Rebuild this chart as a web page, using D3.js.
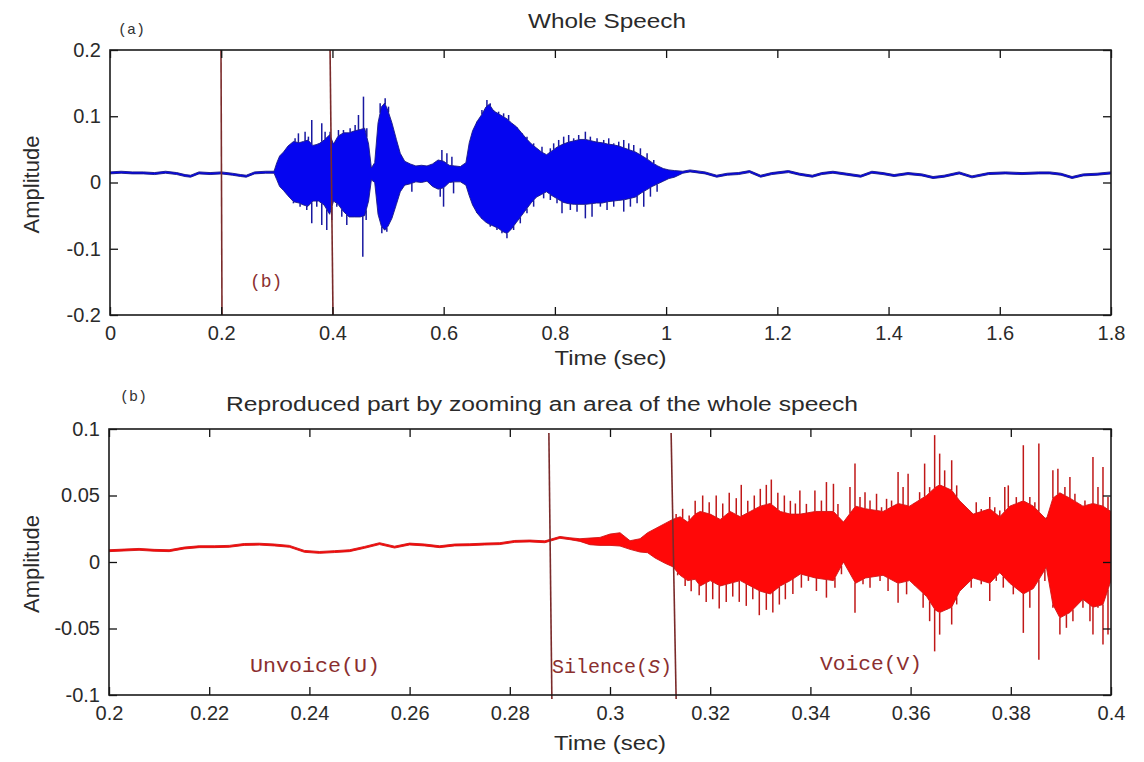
<!DOCTYPE html>
<html>
<head>
<meta charset="utf-8">
<script src="https://cdn.jsdelivr.net/npm/d3@7"></script>
<style>
  body { margin: 0; background: #fff; }
  svg text { font-family: "Liberation Sans", Arial, sans-serif; fill: #2a2a2a; }
  svg text.mono { font-family: "Liberation Mono", "Courier New", monospace; fill: #8b2f2f; }
  svg text.panelTag { font-family: "Liberation Mono", "Courier New", monospace; fill: #333; }
  .axis path { display: none; }
  .axis line { stroke: #111; stroke-width: 1.3; }
  .axis text { font-size: 20px; }
</style>
</head>
<body>
<div id="chart"></div>
<script>
// ---------- data ----------
// (a) whole speech: envelope upper / lower per time (sec)
var topT = [
  0, 0.02, 0.04, 0.06, 0.08, 0.10, 0.12, 0.135, 0.145, 0.16,
  0.18, 0.20, 0.22, 0.235, 0.245, 0.26, 0.28, 0.295, 0.300, 0.305,
  0.312, 0.320, 0.330, 0.340, 0.348, 0.356, 0.365, 0.375, 0.385, 0.395,
  0.402, 0.410, 0.420, 0.430, 0.440, 0.450, 0.458, 0.465, 0.470, 0.476,
  0.482, 0.488, 0.494, 0.500, 0.507, 0.515, 0.522, 0.530, 0.540, 0.550,
  0.560, 0.570, 0.580, 0.590, 0.600, 0.610, 0.620, 0.630, 0.640, 0.646,
  0.652, 0.660, 0.668, 0.676, 0.682, 0.690, 0.698, 0.706, 0.714, 0.722,
  0.731, 0.740, 0.749, 0.758, 0.767, 0.776, 0.785, 0.795, 0.805, 0.815,
  0.825, 0.835, 0.845, 0.855, 0.865, 0.875, 0.885, 0.895, 0.905, 0.915,
  0.925, 0.935, 0.945, 0.955, 0.965, 0.975, 0.985, 0.995, 1.005, 1.015,
  1.030, 1.043, 1.070, 1.091, 1.110, 1.130, 1.150, 1.170, 1.190, 1.220,
  1.240, 1.263, 1.280, 1.300, 1.325, 1.350, 1.370, 1.390, 1.410, 1.435,
  1.460, 1.480, 1.500, 1.527, 1.550, 1.580, 1.610, 1.640, 1.670, 1.690,
  1.710, 1.730, 1.750, 1.775, 1.800];
var topHi = [
  .016, .017, .016, .016, .015, .017, .015, .012, .011, .016,
  .015, .016, .014, .012, .011, .016, .017, .017, .030, .040,
  .046, .055, .062, .060, .062, .064, .056, .058, .064, .072,
  .058, .070, .075, .075, .078, .080, .082, .058, .022, .030,
  .090, .114, .120, .108, .090, .065, .044, .032, .028, .025,
  .026, .025, .028, .034, .032, .026, .025, .024, .030, .060,
  .078, .092, .102, .114, .118, .108, .104, .100, .096, .090,
  .084, .075, .066, .058, .052, .046, .042, .048, .054, .058,
  .061, .063, .065, .065, .063, .061, .060, .058, .057, .055,
  .052, .049, .046, .041, .036, .030, .025, .021, .019, .018,
  .017, .019, .016, .011, .014, .015, .018, .011, .015, .018,
  .014, .011, .015, .017, .014, .011, .017, .015, .012, .015,
  .013, .009, .011, .016, .010, .015, .016, .015, .016, .016,
  .014, .009, .013, .014, .016];
var topLo = [
  .013, .014, .013, .013, .012, .014, .012, .009, .008, .013,
  .012, .013, .011, .009, .008, .013, .014, .014, .004, -.006,
  -.012, -.020, -.029, -.031, -.034, -.036, -.028, -.028, -.034, -.048,
  -.028, -.033, -.044, -.052, -.052, -.052, -.050, -.028, .004, .000,
  -.048, -.066, -.072, -.066, -.054, -.033, -.014, -.004, -.002, .001,
  .000, .002, -.006, -.010, -.008, .000, .001, .001, -.004, -.020,
  -.034, -.046, -.054, -.060, -.063, -.066, -.069, -.074, -.077, -.070,
  -.060, -.050, -.040, -.030, -.022, -.018, -.014, -.020, -.025, -.030,
  -.032, -.033, -.033, -.033, -.032, -.031, -.031, -.029, -.028, -.027,
  -.026, -.024, -.022, -.016, -.011, -.006, -.002, .002, .006, .008,
  .014, .016, .013, .008, .011, .012, .015, .008, .012, .015,
  .011, .008, .012, .014, .011, .008, .014, .012, .009, .012,
  .010, .006, .008, .013, .007, .012, .013, .012, .013, .013,
  .011, .006, .010, .011, .013];
// isolated peaks sticking out of the envelope
var topSpikeT = [
  0.3328, 0.3388, 0.3508, 0.3568, 0.3628, 0.3748, 0.3808, 0.3868, 0.3958, 0.4108,
  0.4198, 0.4318, 0.4408, 0.4468, 0.4558, 0.4618, 0.4858, 0.4948, 0.5008, 0.5968,
  0.6058, 0.6148, 0.6598, 0.6688, 0.6778, 0.6838, 0.6898, 0.6988, 0.7078, 0.7168,
  0.7318, 0.7408, 0.7498, 0.7618, 0.7768, 0.7918, 0.7978, 0.8068, 0.8158, 0.8248,
  0.8338, 0.8428, 0.8548, 0.8638, 0.8758, 0.8878, 0.8968, 0.9058, 0.9148, 0.9238,
  0.9328, 0.9418, 0.9538, 0.9658, 0.9778,
  0.3298, 0.3418, 0.3538, 0.3628, 0.3718, 0.3808, 0.3898, 0.3988, 0.4078, 0.4168,
  0.4258, 0.4378, 0.4468, 0.4546, 0.4606, 0.4888, 0.4978, 0.5428, 0.5938, 0.5998,
  0.6178, 0.6598, 0.6688, 0.6838, 0.6958, 0.7048, 0.7138, 0.7258, 0.7378, 0.7498,
  0.7618, 0.7798, 0.7918, 0.8038, 0.8128, 0.8278, 0.8398, 0.8548, 0.8668, 0.8818,
  0.8938, 0.9058, 0.9238, 0.9358, 0.9478, 0.9598, 0.9718, 0.9838];
var topSpikeV = [
  0.0667, 0.0742, 0.0767, 0.0692, 0.0943, 0.0591, 0.0893, 0.0767, 0.0767, 0.0792,
  0.0792, 0.0818, 0.0868, 0.1019, 0.1296, 0.0818, 0.1195, 0.1270, 0.1145, 0.0491,
  0.0440, 0.0390, 0.0843, 0.1094, 0.1245, 0.1195, 0.1094, 0.1069, 0.1044, 0.1019,
  0.0792, 0.0717, 0.0692, 0.0591, 0.0541, 0.0516, 0.0591, 0.0642, 0.0692, 0.0717,
  0.0667, 0.0717, 0.0767, 0.0692, 0.0667, 0.0642, 0.0667, 0.0591, 0.0616, 0.0642,
  0.0591, 0.0566, 0.0516, 0.0440, 0.0340,
  -0.0314, -0.0365, -0.0415, -0.0616, -0.0365, -0.0642, -0.0717, -0.0566, -0.0365, -0.0516,
  -0.0642, -0.0516, -0.0516, -0.1120, -0.0566, -0.0767, -0.0742, -0.0138, -0.0214, -0.0365,
  -0.0164, -0.0365, -0.0516, -0.0667, -0.0717, -0.0767, -0.0843, -0.0717, -0.0616, -0.0465,
  -0.0365, -0.0239, -0.0264, -0.0314, -0.0465, -0.0415, -0.0440, -0.0541, -0.0516, -0.0365,
  -0.0415, -0.0365, -0.0440, -0.0365, -0.0314, -0.0365, -0.0214, -0.0138];
// zoom window markers (top / bottom end of each line)
var topMarkStart = [0.1996, 0.3957];
var topMarkEnd = [0.2014, 0.401];

// (b) zoomed part 0.2 - 0.4 sec
var botT = [
  0.200, 0.203, 0.206, 0.209, 0.212, 0.215, 0.218, 0.221, 0.224, 0.227,
  0.230, 0.233, 0.236, 0.239, 0.242, 0.245, 0.248, 0.251, 0.254, 0.257,
  0.260, 0.263, 0.266, 0.269, 0.272, 0.275, 0.278, 0.281, 0.284, 0.287,
  0.290, 0.292, 0.294, 0.296, 0.298, 0.300, 0.302, 0.304, 0.306, 0.3075,
  0.309, 0.311, 0.3125, 0.314, 0.3155, 0.317, 0.318, 0.320, 0.322, 0.324,
  0.326, 0.328, 0.330, 0.332, 0.334, 0.336, 0.338, 0.341, 0.3446, 0.3466,
  0.349, 0.351, 0.3545, 0.3575, 0.3598, 0.3632, 0.3649, 0.3658, 0.3682, 0.3698,
  0.3725, 0.3758, 0.3778, 0.3798, 0.3825, 0.3845, 0.3871, 0.3884, 0.3898, 0.3918,
  0.3944, 0.3964, 0.3984, 0.400];
var botHi = [
  .0092, .0097, .0102, .0095, .0092, .0112, .0122, .0122, .0125, .0139,
  .0141, .0135, .0125, .0087, .0079, .0085, .0092, .0117, .0145, .0119,
  .0142, .0135, .0122, .0135, .0137, .0142, .0145, .0162, .0165, .0159,
  .0192, .0182, .0175, .018, .0185, .021, .022, .016, .0175, .022,
  .025, .029, .032, .034, .030, .036, .038, .036, .032, .038,
  .034, .038, .042, .044, .038, .036, .036, .038, .038, .030,
  .042, .040, .038, .044, .042, .050, .056, .058, .054, .046,
  .036, .040, .034, .042, .046, .042, .032, .048, .052, .048,
  .042, .044, .042, .038];
var botLo = [
  .0078, .0083, .0088, .0081, .0078, .0098, .0108, .0108, .0111, .0125,
  .0127, .0121, .0111, .0073, .0065, .0071, .0078, .0103, .0131, .0105,
  .0128, .0121, .0108, .0121, .0123, .0128, .0131, .0148, .0151, .0145,
  .0178, .0168, .0155, .013, .0125, .0125, .012, .0095, .0075, .007,
  .003, -.001, -.0035, -.010, -.014, -.013, -.018, -.014, -.018, -.016,
  -.014, -.018, -.022, -.024, -.018, -.014, -.009, -.012, -.014, .000,
  -.016, -.012, -.010, -.016, -.014, -.026, -.036, -.038, -.034, -.022,
  -.012, -.016, -.008, -.016, -.024, -.020, -.004, -.032, -.042, -.038,
  -.028, -.034, -.032, -.014];
var botSpikeT = [
  0.3132, 0.3145, 0.3158, 0.3170, 0.3185, 0.3198, 0.3212, 0.3225, 0.3238, 0.3252,
  0.3262, 0.3275, 0.3288, 0.3300, 0.3312, 0.3322, 0.3335, 0.3348, 0.3360, 0.3370,
  0.3379, 0.3392, 0.3409, 0.3422, 0.3432, 0.3446, 0.3455, 0.3479, 0.3489, 0.3499,
  0.3509, 0.3519, 0.3532, 0.3542, 0.3552, 0.3562, 0.3575, 0.3585, 0.3595, 0.3608,
  0.3618, 0.3628, 0.3638, 0.3648, 0.3658, 0.3668, 0.3682, 0.3692, 0.3705, 0.3718,
  0.3731, 0.3741, 0.3758, 0.3768, 0.3778, 0.3788, 0.3795, 0.3811, 0.3825, 0.3838,
  0.3848, 0.3856, 0.3871, 0.3884, 0.3894, 0.3908, 0.3918, 0.3928, 0.3938, 0.3948,
  0.3964, 0.3974, 0.3984, 0.3994,
  0.3135, 0.3150, 0.3162, 0.3178, 0.3192, 0.3205, 0.3218, 0.3232, 0.3245, 0.3258,
  0.3272, 0.3285, 0.3298, 0.3312, 0.3325, 0.3338, 0.3350, 0.3365, 0.3382, 0.3396,
  0.3412, 0.3432, 0.3449, 0.3462, 0.3489, 0.3505, 0.3519, 0.3539, 0.3555, 0.3575,
  0.3592, 0.3608, 0.3625, 0.3638, 0.3648, 0.3658, 0.3672, 0.3682, 0.3692, 0.3705,
  0.3721, 0.3741, 0.3758, 0.3771, 0.3785, 0.3805, 0.3825, 0.3838, 0.3856, 0.3868,
  0.3884, 0.3898, 0.3911, 0.3924, 0.3944, 0.3958, 0.3964, 0.3974, 0.3984, 0.3994];
var botSpikeV = [
  0.036, 0.040, 0.035, 0.046, 0.050, 0.045, 0.050, 0.044, 0.052, 0.048,
  0.058, 0.046, 0.050, 0.055, 0.058, 0.062, 0.052, 0.050, 0.046, 0.044,
  0.0538, 0.0437, 0.0538, 0.0462, 0.0601, 0.0588, 0.0437, 0.0563, 0.0740, 0.0488,
  0.0525, 0.0462, 0.0513, 0.0412, 0.0475, 0.0462, 0.0677, 0.0563, 0.0664, 0.0412,
  0.0525, 0.0740, 0.0563, 0.0954, 0.0815, 0.0689, 0.0765, 0.0576, 0.0437, 0.0387,
  0.0450, 0.0399, 0.0488, 0.0412, 0.0387, 0.0563, 0.0576, 0.0488, 0.0878, 0.0488,
  0.0450, 0.0891, 0.0336, 0.0689, 0.0702, 0.0563, 0.0639, 0.0513, 0.0437, 0.0462,
  0.0790, 0.0563, 0.0714, 0.0488,
  -0.010, -0.018, -0.022, -0.025, -0.030, -0.028, -0.035, -0.030, -0.026, -0.030,
  -0.033, -0.028, -0.040, -0.036, -0.038, -0.032, -0.028, -0.024, -0.0193, -0.0142,
  -0.0218, -0.0268, -0.0193, -0.0092, -0.0382, -0.0168, -0.0193, -0.0142, -0.0218, -0.0306,
  -0.0243, -0.0168, -0.0344, -0.0445, -0.0672, -0.0546, -0.0344, -0.0470, -0.0319, -0.0193,
  -0.0193, -0.0168, -0.0294, -0.0142, -0.0193, -0.0243, -0.0533, -0.0344, -0.0735, -0.0142,
  -0.0344, -0.0546, -0.0495, -0.0445, -0.0344, -0.0445, -0.0546, -0.0344, -0.0621, -0.0546];
var botMarkStart = [0.2878, 0.3122];
var botMarkEnd = [0.2884, 0.3132];

// ticks
var topXTicks = [0, 0.2, 0.4, 0.6, 0.8, 1, 1.2, 1.4, 1.6, 1.8];
var topYTicks = [0.2, 0.1, 0, -0.1, -0.2];
var botXTicks = [0.2, 0.22, 0.24, 0.26, 0.28, 0.3, 0.32, 0.34, 0.36, 0.38, 0.4];
var botYTicks = [0.1, 0.05, 0, -0.05, -0.1];

// ---------- drawing ----------
var width = 1144, height = 762;
var svg = d3.select("#chart").append("svg")
  .attr("width", width).attr("height", height);

function zipRows(t, hi, lo) {
  return t.map(function (d, i) { return { t: d, hi: hi[i], lo: lo[i] }; });
}

// envelope edge (hi or lo) at time t, where a spike leaves the envelope
function edgeAt(rows, t, key) {
  var i = d3.bisector(function (d) { return d.t; }).left(rows, t);
  i = Math.max(1, Math.min(rows.length - 1, i));
  var a = rows[i - 1], b = rows[i];
  var k = (t - a.t) / (b.t - a.t);
  return a[key] * (1 - k) + b[key] * k;
}

function panel(cfg) {
  var g = svg.append("g");
  var x = d3.scaleLinear().domain(cfg.xDomain).range([cfg.left, cfg.right]);
  var y = d3.scaleLinear().domain(cfg.yDomain).range([cfg.bottom, cfg.top]);
  var rows = zipRows(cfg.t, cfg.hi, cfg.lo);

  var clipId = "clip" + cfg.id;
  svg.append("clipPath").attr("id", clipId).append("rect")
    .attr("x", cfg.left).attr("y", cfg.top)
    .attr("width", cfg.right - cfg.left).attr("height", cfg.bottom - cfg.top);

  var wave = g.append("g").attr("clip-path", "url(#" + clipId + ")");

  // spikes first, so the envelope covers their roots
  wave.selectAll(".spike")
    .data(cfg.spikeT.map(function (d, i) { return { t: d, v: cfg.spikeV[i] }; }))
    .enter().append("line")
    .attr("class", "spike")
    .attr("x1", function (d) { return x(d.t); })
    .attr("x2", function (d) { return x(d.t); })
    .attr("y1", function (d) { return y(edgeAt(rows, d.t, d.v > 0 ? "hi" : "lo")); })
    .attr("y2", function (d) { return y(d.v); })
    .attr("stroke", cfg.spike)
    .attr("stroke-width", 1.5);

  var area = d3.area()
    .x(function (d) { return x(d.t); })
    .y0(function (d) { return y(d.lo); })
    .y1(function (d) { return y(d.hi); });

  wave.append("path")
    .datum(rows)
    .attr("d", area)
    .attr("fill", cfg.fill)
    .attr("stroke", cfg.edge)
    .attr("stroke-width", 0.9)
    .attr("stroke-linejoin", "round");

  // zoom / segment markers
  g.selectAll(".mark")
    .data(cfg.markStart.map(function (d, i) { return { a: d, b: cfg.markEnd[i] }; }))
    .enter().append("line")
    .attr("x1", function (d) { return x(d.a); })
    .attr("x2", function (d) { return x(d.b); })
    .attr("y1", cfg.markY0)
    .attr("y2", cfg.markY1)
    .attr("stroke", "#7a2a2a")
    .attr("stroke-width", 1.6);

  // axes, MATLAB style ticks pointing inwards on all four sides
  var fmt = function (d) { return String(d); };
  g.append("g").attr("class", "axis")
    .attr("transform", "translate(0," + cfg.bottom + ")")
    .call(d3.axisBottom(x).tickValues(cfg.xTicks).tickFormat(fmt).tickSize(-8).tickPadding(11));
  g.append("g").attr("class", "axis")
    .attr("transform", "translate(0," + cfg.top + ")")
    .call(d3.axisTop(x).tickValues(cfg.xTicks).tickFormat("").tickSize(-8));
  g.append("g").attr("class", "axis")
    .attr("transform", "translate(" + cfg.left + ",0)")
    .call(d3.axisLeft(y).tickValues(cfg.yTicks).tickFormat(fmt).tickSize(-8).tickPadding(9));
  g.append("g").attr("class", "axis")
    .attr("transform", "translate(" + cfg.right + ",0)")
    .call(d3.axisRight(y).tickValues(cfg.yTicks).tickFormat("").tickSize(-8));

  g.append("rect")
    .attr("x", cfg.left).attr("y", cfg.top)
    .attr("width", cfg.right - cfg.left).attr("height", cfg.bottom - cfg.top)
    .attr("fill", "none").attr("stroke", "#1a1a1a").attr("stroke-width", 1.6);

  g.append("text")
    .attr("transform", "translate(39," + (cfg.top + cfg.bottom + 4) / 2 + ") rotate(-90)")
    .attr("text-anchor", "middle")
    .style("font-size", "22px")
    .text("Amplitude");

  g.append("text")
    .attr("x", (cfg.left + cfg.right) / 2)
    .attr("y", cfg.bottom + cfg.xLabelGap)
    .attr("text-anchor", "middle")
    .attr("textLength", 112)
    .attr("lengthAdjust", "spacingAndGlyphs")
    .style("font-size", "21px")
    .text("Time (sec)");
  return g;
}

var top = panel({
  id: "a", xDomain: [0, 1.8], yDomain: [-0.2, 0.2],
  left: 110, right: 1111, top: 50, bottom: 315,
  t: topT, hi: topHi, lo: topLo, spikeT: topSpikeT, spikeV: topSpikeV,
  fill: "#0505f0", edge: "#1a1a86", spike: "#1818a0",
  markStart: topMarkStart, markEnd: topMarkEnd, markY0: 50, markY1: 315,
  xTicks: topXTicks, yTicks: topYTicks, xLabelGap: 50
});

var bot = panel({
  id: "b", xDomain: [0.2, 0.4], yDomain: [-0.1, 0.1],
  left: 109, right: 1111, top: 429, bottom: 695,
  t: botT, hi: botHi, lo: botLo, spikeT: botSpikeT, spikeV: botSpikeV,
  fill: "#ff0808", edge: "#d01414", spike: "#c01818",
  markStart: botMarkStart, markEnd: botMarkEnd, markY0: 433, markY1: 699,
  xTicks: botXTicks, yTicks: botYTicks, xLabelGap: 55
});

// titles and labels
svg.append("text").attr("x", 607).attr("y", 28).attr("text-anchor", "middle")
  .attr("textLength", 158).attr("lengthAdjust", "spacingAndGlyphs")
  .style("font-size", "20px").text("Whole Speech");
svg.append("text").attr("class", "panelTag").attr("x", 118).attr("y", 34)
  .style("font-size", "15px").text("(a)");
svg.append("text").attr("class", "mono").attr("x", 250).attr("y", 287)
  .style("font-size", "18px").text("(b)");

svg.append("text").attr("x", 226).attr("y", 411)
  .attr("textLength", 632).attr("lengthAdjust", "spacingAndGlyphs")
  .style("font-size", "20px").text("Reproduced part by zooming an area of the whole speech");
svg.append("text").attr("class", "panelTag").attr("x", 120).attr("y", 401)
  .style("font-size", "15px").text("(b)");

svg.append("text").attr("class", "mono").attr("x", 250).attr("y", 672)
  .attr("textLength", 130).attr("lengthAdjust", "spacingAndGlyphs")
  .style("font-size", "20px").text("Unvoice(U)");
var sil = svg.append("text").attr("class", "mono").attr("x", 552).attr("y", 673)
  .style("font-size", "20px");
sil.append("tspan").text("Silence(");
sil.append("tspan").style("font-style", "italic").text("S");
sil.append("tspan").text(")");
svg.append("text").attr("class", "mono").attr("x", 820).attr("y", 670)
  .attr("textLength", 102).attr("lengthAdjust", "spacingAndGlyphs")
  .style("font-size", "20px").text("Voice(V)");
</script>
</body>
</html>
